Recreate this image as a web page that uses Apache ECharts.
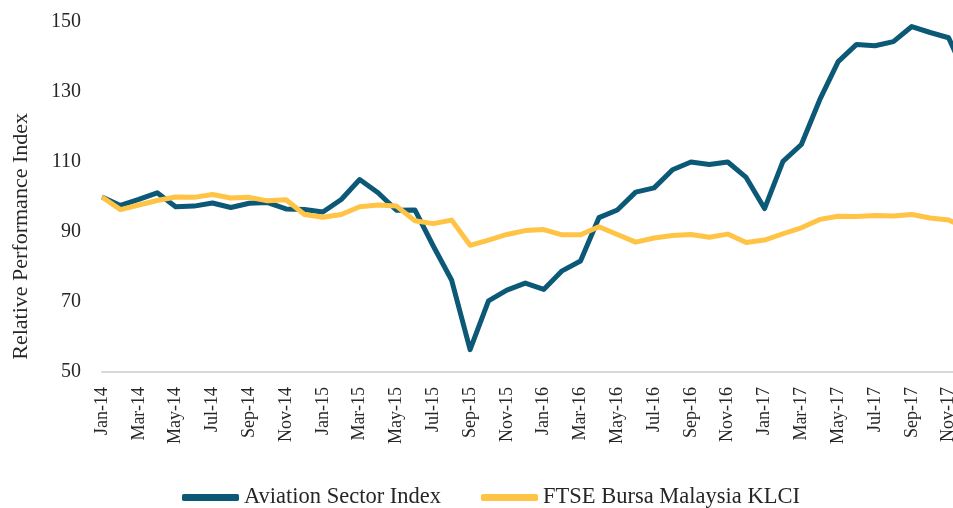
<!DOCTYPE html>
<html>
<head>
<meta charset="utf-8">
<script src="https://cdn.jsdelivr.net/npm/echarts@6/dist/echarts.min.js"></script>
<style>
  html, body { margin: 0; padding: 0; background: #fff; }
  #main { width: 953px; height: 508px; }
</style>
</head>
<body>
<div id="main"></div>
<script>
var months = [
    'Jan-14','Feb-14','Mar-14','Apr-14','May-14','Jun-14','Jul-14','Aug-14','Sep-14','Oct-14','Nov-14','Dec-14',
    'Jan-15','Feb-15','Mar-15','Apr-15','May-15','Jun-15','Jul-15','Aug-15','Sep-15','Oct-15','Nov-15','Dec-15',
    'Jan-16','Feb-16','Mar-16','Apr-16','May-16','Jun-16','Jul-16','Aug-16','Sep-16','Oct-16','Nov-16','Dec-16',
    'Jan-17','Feb-17','Mar-17','Apr-17','May-17','Jun-17','Jul-17','Aug-17','Sep-17','Oct-17','Nov-17','Dec-17'
];

var aviation = [
    100, 97.6, 99.3, 101.2, 97.2, 97.4, 98.3, 97.0, 98.2, 98.4, 96.6, 96.4,
    95.7, 99.3, 105.0, 101.2, 96.2, 96.3, 86.0, 76.2, 56.4, 70.3, 73.4, 75.4,
    73.6, 78.9, 81.7, 94.1, 96.3, 101.4, 102.6, 107.8, 110.0, 109.3, 110.0, 105.6,
    96.7, 110.2, 115.0, 127.8, 138.7, 143.6, 143.2, 144.4, 148.7, 147.0, 145.5, 134.0
];

var klci = [
    100, 96.4, 97.7, 99.0, 100.0, 99.9, 100.7, 99.7, 99.9, 98.9, 99.2, 95.0,
    94.2, 95.0, 97.2, 97.7, 97.4, 93.2, 92.4, 93.4, 86.2, 87.7, 89.3, 90.4,
    90.7, 89.2, 89.2, 91.5, 89.3, 87.1, 88.3, 89.0, 89.3, 88.5, 89.4, 87.0,
    87.7, 89.5, 91.2, 93.6, 94.5, 94.4, 94.7, 94.6, 95.0, 94.0, 93.4, 91.0
];

var serif = '"Liberation Serif", "DejaVu Serif", serif';

var myChart = echarts.init(document.getElementById('main'));

var option = {
    backgroundColor: '#ffffff',
    animation: false,
    grid: {
        left: 102,
        width: 865,
        top: 22,
        bottom: 136,
        outerBoundsMode: 'none'
    },
    legend: {
        bottom: -1,
        left: 182,
        padding: 0,
        itemGap: 40,
        itemWidth: 57,
        itemHeight: 7,
        icon: 'roundRect',
        textStyle: { fontFamily: serif, fontSize: 22.5, color: '#262626' },
        data: ['Aviation Sector Index', 'FTSE Bursa Malaysia KLCI']
    },
    graphic: [{
        type: 'text',
        left: 10,
        top: 113,
        rotation: Math.PI / 2,
        style: {
            text: 'Relative Performance Index',
            font: '22px ' + serif,
            fill: '#262626'
        }
    }],
    xAxis: {
        type: 'category',
        boundaryGap: false,
        data: months,
        axisLine: { lineStyle: { color: '#d9d9d9', width: 2 } },
        axisTick: { show: false },
        axisLabel: {
            interval: 1,
            rotate: 90,
            margin: 15,
            fontFamily: serif,
            fontSize: 18,
            color: '#262626'
        }
    },
    yAxis: {
        type: 'value',
        min: 50,
        max: 150,
        interval: 20,
        splitLine: { show: false },
        axisLine: { show: false },
        axisTick: { show: false },
        axisLabel: {
            margin: 21,
            fontFamily: serif,
            fontSize: 20,
            color: '#262626'
        }
    },
    series: [
        {
            name: 'Aviation Sector Index',
            type: 'line',
            data: aviation,
            symbol: 'none',
            color: '#0b5877',
            lineStyle: { width: 5, color: '#0b5877', join: 'round' }
        },
        {
            name: 'FTSE Bursa Malaysia KLCI',
            type: 'line',
            data: klci,
            symbol: 'none',
            color: '#ffc445',
            lineStyle: { width: 5, color: '#ffc445', join: 'round' }
        }
    ]
};

myChart.setOption(option);
</script>
</body>
</html>
